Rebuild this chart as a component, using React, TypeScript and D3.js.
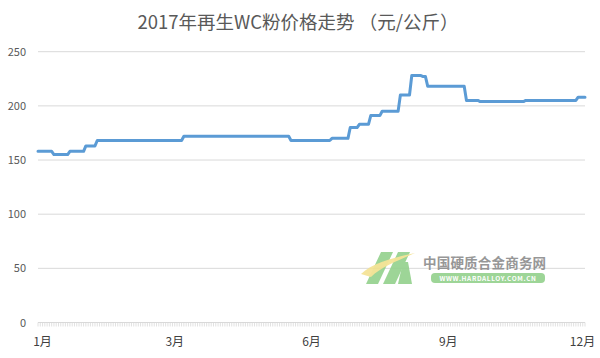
import React from "react";
import * as d3 from "d3";

// Step data: index (trading-day position) where each price level starts, and the price
const stepStart = [0, 7, 14, 21, 26, 64, 111, 129, 137, 141, 146, 151, 159, 164, 169, 171, 188, 194, 214, 237];
const stepPrice = [158, 155, 158, 163, 168, 172, 168, 170, 180, 183, 191, 195, 210, 228, 227, 218, 205, 204, 205, 208];
const lastIndex = 240;

const yTicks = [0, 50, 100, 150, 200, 250];
const xLabelIdx = [0, 60, 120, 180, 240];
const xLabels = ["1月", "3月", "6月", "9月", "12月"];

const W = 600;
const H = 358;
const FONT = "'Microsoft YaHei', 'Noto Sans CJK SC', 'Noto Sans', sans-serif";

export default function App() {
  const x = d3.scaleLinear().domain([0, lastIndex]).range([38, 585]);
  const y = d3.scaleLinear().domain([0, 250]).range([322.5, 51.7]);

  const pts: [number, number][] = [];
  stepStart.forEach((s, i) => {
    const end = i < stepStart.length - 1 ? stepStart[i + 1] - 1 : lastIndex;
    pts.push([s, stepPrice[i]]);
    if (end > s) pts.push([end, stepPrice[i]]);
  });
  const line = d3
    .line<[number, number]>()
    .x((d) => x(d[0]))
    .y((d) => y(d[1]));

  const minor = d3.range(0, lastIndex + 1);

  const labelW = (t: string) => (t.length === 3 ? 27 : 17);

  return (
    <svg
      width={W}
      height={H}
      style={{ position: "absolute", left: 0, top: 0, background: "#fff" }}
      fontFamily={FONT}
    >
      <text x={298} y={29} textAnchor="middle" fontSize={18.5} fill="#595959">
        2017年再生WC粉价格走势 （元/公斤）
      </text>

      {yTicks.map((t) => (
        <g key={t}>
          <line x1={38} x2={585} y1={y(t)} y2={y(t)} stroke="#d9d9d9" strokeWidth={1} />
          <text x={26} y={y(t) + 4} textAnchor="end" fontSize={11} fill="#595959">
            {t}
          </text>
        </g>
      ))}

      {minor.map((i) => (
        <line
          key={i}
          x1={x(i)}
          x2={x(i)}
          y1={y(0)}
          y2={y(0) + 4}
          stroke="#d9d9d9"
          strokeWidth={0.8}
        />
      ))}

      {xLabelIdx.map((idx, i) => {
        const w = labelW(xLabels[i]);
        const cx = Math.max(34 + w / 2, Math.min(x(idx), 596 - w / 2));
        return (
          <text key={idx} x={cx} y={346} textAnchor="middle" fontSize={12} fill="#404040">
            {xLabels[i]}
          </text>
        );
      })}

      {/* watermark */}
      <g opacity={0.9}>
        <polygon points="366,284 378,284 393,252 381,252" fill="#93d18c" />
        <polygon points="383,284 395,284 410,252 398,252" fill="#93d18c" />
        <polygon points="398,284 412,284 408,262 403,262" fill="#93d18c" />
        <path
          d="M361,274 C372,263 392,258 415,253 C397,261 381,267 371,277 Z"
          fill="#f3e08c"
          opacity={0.95}
        />
        <text x={423} y={268} fontSize={13.5} fontWeight="bold" fill="#8c8c8c" letterSpacing={0.2}>
          中国硬质合金商务网
        </text>
        <rect x={431} y={273} width={114} height={10} rx={4} fill="#93d18c" />
        <text
          x={488}
          y={281}
          textAnchor="middle"
          fontSize={6.5}
          fontWeight="bold"
          fill="#fff"
          letterSpacing={0.6}
        >
          WWW.HARDALLOY.COM.CN
        </text>
      </g>

      <path
        d={line(pts) || ""}
        fill="none"
        stroke="#5b9bd5"
        strokeWidth={3}
        strokeLinejoin="round"
        strokeLinecap="round"
      />
    </svg>
  );
}
